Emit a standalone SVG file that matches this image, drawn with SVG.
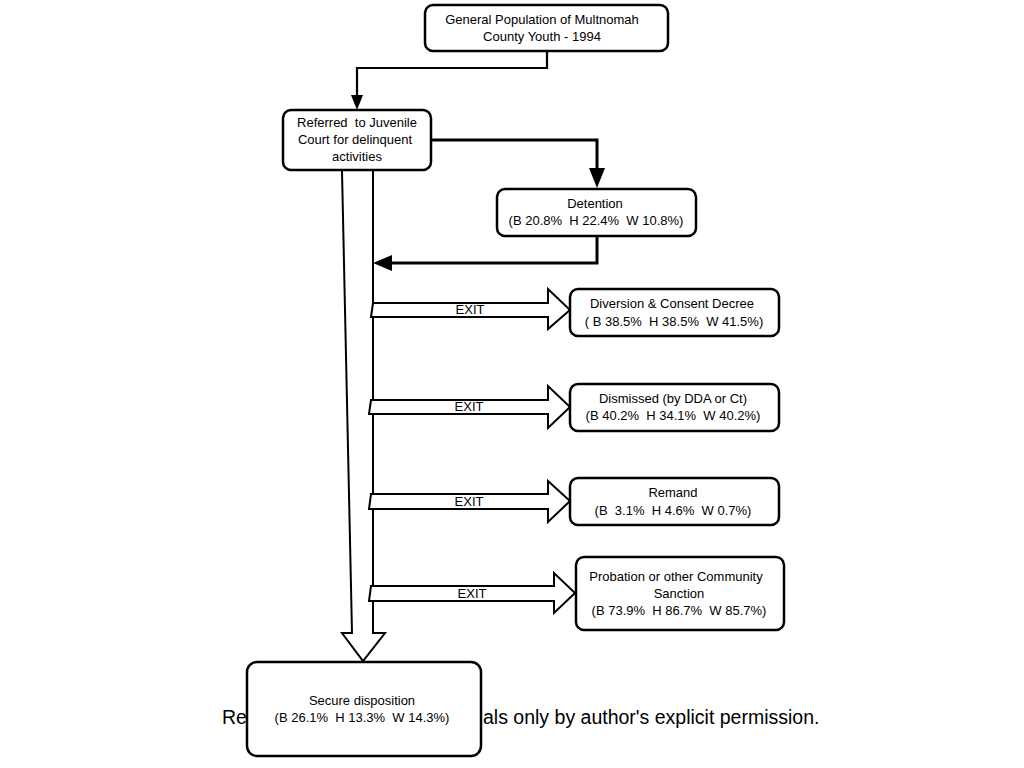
<svg xmlns="http://www.w3.org/2000/svg" width="1024" height="768" viewBox="0 0 1024 768">
<style>
.box{fill:#fff;stroke:#000;stroke-width:2.5}
.t{font-family:"Liberation Sans",Arial,sans-serif;font-size:13px;fill:#000;text-anchor:middle;white-space:pre}
.ln{fill:none;stroke:#000;stroke-width:2.2}
.thick{fill:none;stroke:#000;stroke-width:3}
.blk{fill:#fff;stroke:#000;stroke-width:2;stroke-linejoin:miter}
.note{font-family:"Liberation Sans",Arial,sans-serif;font-size:19.5px;fill:#000}
</style>
<rect width="1024" height="768" fill="#fff"/>
<text class="note" x="222" y="724">Re</text>
<text class="note" x="483" y="724">als only by author's explicit permission.</text>
<g id="connectors">
<path class="ln" d="M547,51 V68 H357 V95"/>
<path d="M351,95 L363,95 L357,110 Z" fill="#000"/>
<path class="thick" d="M431,140 H597 V170"/>
<path d="M589,168 L605,168 L597,188 Z" fill="#000"/>
<path class="thick" d="M597,236 V263 H390"/>
<path d="M392,255 L392,271 L373,263 Z" fill="#000"/>
<path class="blk" d="M342,171 L352,633 L342,633 L363,661 L385,633 L373,633 L373,171"/>
<g id="exit1"><path class="blk" d="M373,303 H548 V289 L570,310 L548,329 V317 H371 Z"/><text class="t" x="470" y="314">EXIT</text></g>
<g id="exit2"><path class="blk" d="M371,400 H548 V386 L570,407 L548,428 V414 H369 Z"/><text class="t" x="469" y="411">EXIT</text></g>
<g id="exit3"><path class="blk" d="M371,494 H548 V481 L570,501 L548,522 V509 H369 Z"/><text class="t" x="469" y="506">EXIT</text></g>
<g id="exit4"><path class="blk" d="M371,586 H554 V573 L575,593 L554,613 V601 H369 Z"/><text class="t" x="472" y="598">EXIT</text></g>
</g>
<g id="general">
<rect class="box" x="425" y="5" width="243" height="46" rx="8"/>
<text class="t" x="542" y="24">General Population of Multnomah</text>
<text class="t" x="542" y="41">County Youth - 1994</text>
</g>
<g id="referred">
<rect class="box" x="283" y="110" width="148" height="60" rx="8"/>
<text class="t" x="357" y="127">Referred  to Juvenile</text>
<text class="t" x="355" y="144">Court for delinquent</text>
<text class="t" x="357" y="161">activities</text>
</g>
<g id="detention">
<rect class="box" x="497" y="189" width="199" height="47" rx="8"/>
<text class="t" x="595" y="208">Detention</text>
<text class="t" x="596" y="225">(B 20.8%  H 22.4%  W 10.8%)</text>
</g>
<g id="diversion">
<rect class="box" x="570" y="289" width="209" height="47" rx="8"/>
<text class="t" x="672" y="308">Diversion &amp; Consent Decree</text>
<text class="t" x="674" y="326">( B 38.5%  H 38.5%  W 41.5%)</text>
</g>
<g id="dismissed">
<rect class="box" x="570" y="384" width="209" height="47" rx="8"/>
<text class="t" x="673" y="403">Dismissed (by DDA or Ct)</text>
<text class="t" x="673" y="420">(B 40.2%  H 34.1%  W 40.2%)</text>
</g>
<g id="remand">
<rect class="box" x="570" y="478" width="209" height="47" rx="8"/>
<text class="t" x="673" y="497">Remand</text>
<text class="t" x="673" y="515">(B  3.1%  H 4.6%  W 0.7%)</text>
</g>
<g id="probation">
<rect class="box" x="576" y="557" width="208" height="73" rx="8"/>
<text class="t" x="676" y="581">Probation or other Community</text>
<text class="t" x="679" y="598">Sanction</text>
<text class="t" x="679" y="615">(B 73.9%  H 86.7%  W 85.7%)</text>
</g>
<g id="secure">
<rect class="box" x="247" y="662" width="234" height="94" rx="10"/>
<text class="t" x="362" y="705">Secure disposition</text>
<text class="t" x="362" y="722">(B 26.1%  H 13.3%  W 14.3%)</text>
</g>
</svg>
